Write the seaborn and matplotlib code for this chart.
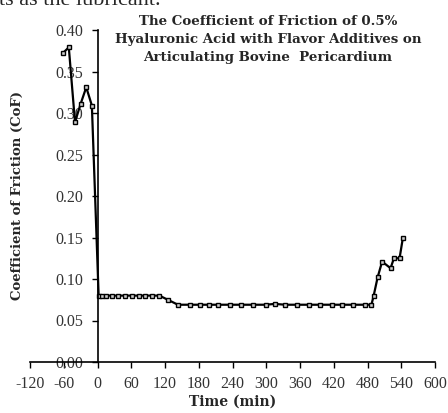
import matplotlib
matplotlib.use("Agg")
import matplotlib.pyplot as plt
import seaborn as sns
import pandas as pd

time_min = [-62, -51, -40, -30, -20, -10,
            2, 8, 15, 25, 37, 49, 61, 73, 85, 97, 110, 125,
            143, 164, 182, 198, 214, 236, 255, 276, 299, 315, 334, 354,
            376, 396, 417, 435, 455, 476, 487,
            491, 498, 506, 521, 527, 537, 543]
cof = [0.372, 0.379, 0.289, 0.311, 0.331, 0.309,
       0.080, 0.080, 0.080, 0.080, 0.080, 0.080, 0.080, 0.080, 0.080, 0.080, 0.080, 0.075,
       0.069, 0.069, 0.069, 0.069, 0.069, 0.069, 0.069, 0.069, 0.069, 0.070, 0.069, 0.069,
       0.069, 0.069, 0.069, 0.069, 0.069, 0.069, 0.069,
       0.080, 0.102, 0.121, 0.113, 0.125, 0.125, 0.150]

x_ticks = [-120, -60, 0, 60, 120, 180, 240, 300, 360, 420, 480, 540, 600]
y_ticks = [0.00, 0.05, 0.10, 0.15, 0.20, 0.25, 0.30, 0.35, 0.40]

title = "The Coefficient of Friction of 0.5%\nHyaluronic Acid with Flavor Additives on\nArticulating Bovine  Pericardium"

df = pd.DataFrame({"Time (min)": time_min, "CoF": cof})

sns.set_style("white")
plt.rcParams['font.family'] = ['Liberation Serif', 'DejaVu Serif']
bold_family = ['DejaVu Serif']

fig = plt.figure(figsize=(4.48, 4.13), dpi=100)
ax = fig.add_axes([30/448, 1-362/413, 405/448, 332/413])

sns.lineplot(data=df, x="Time (min)", y="CoF", ax=ax, color="black",
             linewidth=1.6, marker="s", markersize=3.0, markerfacecolor="#cccccc",
             markeredgecolor="black", markeredgewidth=1.0, sort=False)

ax.set_xlim(-120, 600)
ax.set_ylim(0, 0.40)
ax.set_xticks(x_ticks)
ax.set_xticklabels([str(v) for v in x_ticks])
ax.set_yticks(y_ticks)
ax.set_yticklabels([f"{v:.2f}" for v in y_ticks])

for s in ["top", "right"]:
    ax.spines[s].set_visible(False)
ax.spines["left"].set_position(("data", 0))
ax.spines["left"].set_color("black")
ax.spines["bottom"].set_color("black")
ax.spines["left"].set_linewidth(1.2)
ax.spines["bottom"].set_linewidth(1.2)

ax.tick_params(axis="y", direction="out", length=4, width=1, pad=6,
               labelsize=11.5, colors="black", left=True)
ax.tick_params(axis="x", direction="out", length=4, width=1, pad=6,
               labelsize=11.5, colors="black", bottom=True)
for lab in ax.get_yticklabels() + ax.get_xticklabels():
    lab.set_color("#333333")

ax.set_xlabel("Time (min)", fontsize=10, fontweight="bold", labelpad=2,
              family=bold_family)
ax.set_ylabel("")
fig.text(17/448, 1-196/413, "Coefficient of Friction (CoF)", rotation=90,
         ha="center", va="center", fontsize=9.5, fontweight="bold",
         family=bold_family)

fig.text(268/448, 1-15/413, title, ha="center", va="top", fontsize=9.6,
         fontweight="bold", linespacing=1.5, family=bold_family)

fig.text(-0.003, 1-5/413, "ts as the lubricant.", ha="left", va="baseline",
         fontsize=16)

fig.savefig("out.png", dpi=100)
